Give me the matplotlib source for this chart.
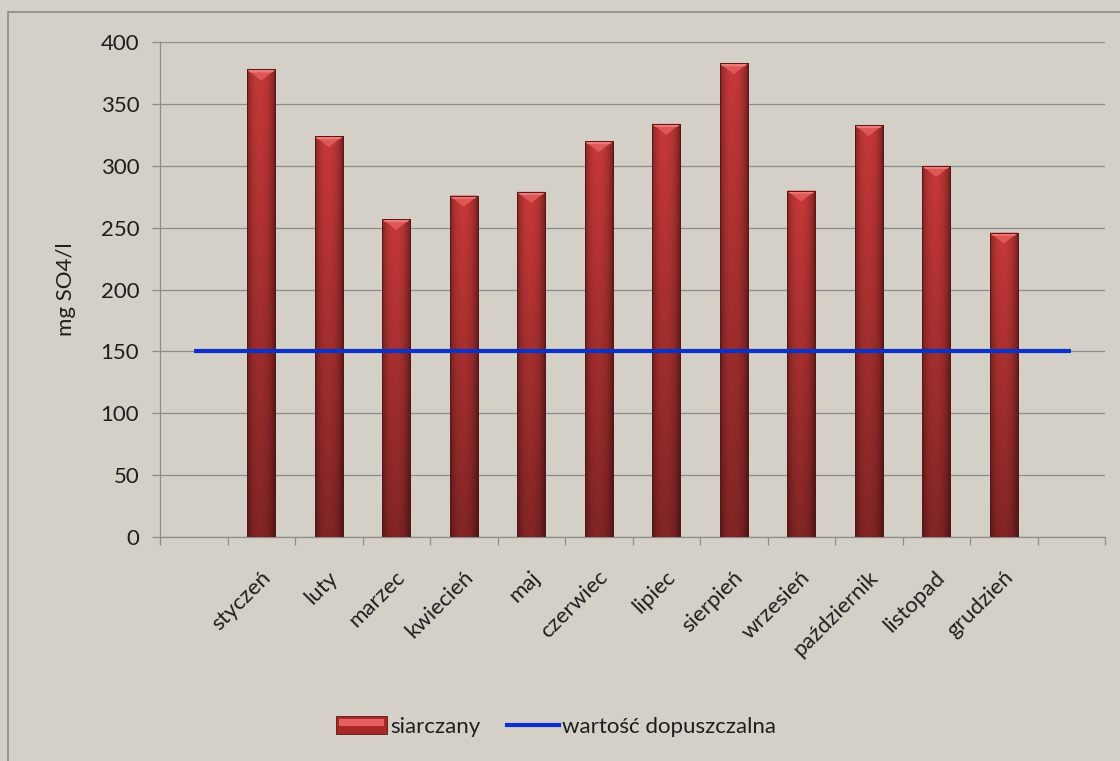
import matplotlib
matplotlib.use("Agg")
import matplotlib.pyplot as plt
import numpy as np
from matplotlib.patches import Rectangle
from matplotlib.lines import Line2D
from matplotlib.legend_handler import HandlerPatch
import matplotlib.transforms as mtransforms

# ---- data ----
categories = ["", "styczeń", "luty", "marzec", "kwiecień", "maj", "czerwiec", "lipiec",
              "sierpień", "wrzesień", "październik", "listopad", "grudzień", ""]
months = categories[1:13]
siarczany = [378, 324, 257, 276, 279, 320, 334, 383, 280, 333, 300, 246]
limit_values = [150, 150, 150, 150, 150, 150, 150, 150, 150, 150, 150, 150, 150, 150]
y_ticks = [0, 50, 100, 150, 200, 250, 300, 350, 400]

BG = "#D4D0C8"
GRID = "#8C8C8C"
TXT = "#1E1E1E"
FONT = ["Lato", "DejaVu Sans"]
plt.rcParams["font.family"] = FONT

fig = plt.figure(figsize=(11.2, 7.61), dpi=100, facecolor=BG)
ax = fig.add_axes([160/1120, 1 - 536.7/761, (1105-160)/1120, (536.7-42.3)/761])
ax.set_facecolor(BG)

# outer frame (left & top visible)
fig.patches.append(Rectangle((8/1120, -0.1), 1.2, 1 - 12/761 + 0.1, transform=fig.transFigure,
                             fill=False, edgecolor="#8A8A8A", linewidth=1.2))

n = len(categories)
xs = np.arange(n)
bar_x = xs[1:13]
bars = ax.bar(bar_x, siarczany, width=0.415, color="#B83030", edgecolor="#5A1515",
              linewidth=0.6, zorder=3, label="siarczany")

# gradient shading for bars
h = 64
w = 32
vert = np.linspace(1.0, 0.66, h)[:, None]
u = np.linspace(-1, 1, w)[None, :]
horiz = 1.0 - 0.35 * np.abs(u) ** 3 - 0.12 * (u > 0) * u
shade = vert * horiz
base = np.array([198, 56, 56]) / 255.0
img = np.clip(base[None, None, :] * shade[:, :, None], 0, 1)
px_per_unit = (536.7 - 42.3) / 400
for b in bars:
    x0, y0 = b.get_x(), b.get_y()
    bw, bh = b.get_width(), b.get_height()
    im = ax.imshow(img, extent=(x0, x0 + bw, y0, y0 + bh), aspect="auto", zorder=3.5,
                   interpolation="bilinear")
    im.set_clip_path(b)
    top = y0 + bh
    d = 11 / px_per_unit
    ax.fill([x0, x0 + bw, x0 + bw/2], [top, top, top - d],
            color="#DE5858", zorder=3.6, linewidth=0)
    ax.fill([x0, x0 + bw, x0 + bw*0.9, x0 + bw*0.1], [top, top, top - 3/px_per_unit, top - 3/px_per_unit],
            color="#EE7A7A", zorder=3.61, linewidth=0)
    ax.add_patch(Rectangle((x0, y0), bw, bh, fill=False, edgecolor="#5A1515", linewidth=0.7, zorder=3.7))

ax.plot(xs, limit_values, color="#0A32C8", linewidth=3.0, zorder=5,
        solid_capstyle="butt", label="wartość dopuszczalna")

ax.set_xlim(-0.5, n - 0.5)
ax.set_ylim(0, 400)
ax.set_yticks(y_ticks)
ax.yaxis.grid(True, color=GRID, linewidth=0.9)
ax.set_axisbelow(True)

for s in ["top", "right"]:
    ax.spines[s].set_visible(False)
for s in ["left", "bottom"]:
    ax.spines[s].set_color(GRID)
    ax.spines[s].set_linewidth(0.9)

ax.set_xticks(np.arange(-0.5, n, 1.0))
ax.set_xticklabels([])
ax.tick_params(axis="x", which="major", length=6, color=GRID, width=0.9)
ax.tick_params(axis="y", length=6, color=GRID, width=0.9, labelsize=16, pad=9, labelcolor=TXT)
ax.set_xticks(xs, minor=True)
ax.set_xticklabels(categories, minor=True, rotation=45, ha="right", va="center",
                   rotation_mode="anchor", fontsize=16, color=TXT)
ax.tick_params(axis="x", which="minor", length=0, pad=27)
offset = mtransforms.ScaledTranslation(6/100, 0, fig.dpi_scale_trans)
for lab in ax.get_xticklabels(minor=True):
    lab.set_transform(lab.get_transform() + offset)

ax.set_ylabel("mg SO4/l", fontsize=16, color=TXT, labelpad=18)

# legend
class GradHandler(HandlerPatch):
    def create_artists(self, legend, orig_handle, xdescent, ydescent, width, height, fontsize, trans):
        r = Rectangle((-xdescent, -ydescent - 1), width, height + 2, facecolor="#A82828",
                      edgecolor="#5A1515", linewidth=0.6, transform=trans)
        r2 = Rectangle((-xdescent + 2, -ydescent + height*0.45), width - 4, height*0.45,
                       facecolor="#E86060", edgecolor="none", transform=trans)
        return [r, r2]

bar_handle = Rectangle((0, 0), 1, 1, facecolor="#B83030")
line_handle = Line2D([], [], color="#0A32C8", linewidth=3.0)
fig.legend([bar_handle, line_handle], ["siarczany", "wartość dopuszczalna"],
           loc="center", bbox_to_anchor=(556/1120, 1 - 727/761), ncol=2, frameon=False,
           fontsize=16, handlelength=2.3, handletextpad=0.15, columnspacing=1.2,
           handler_map={Rectangle: GradHandler()}, labelcolor=TXT)

fig.savefig("out.png", dpi=100, facecolor=BG)
